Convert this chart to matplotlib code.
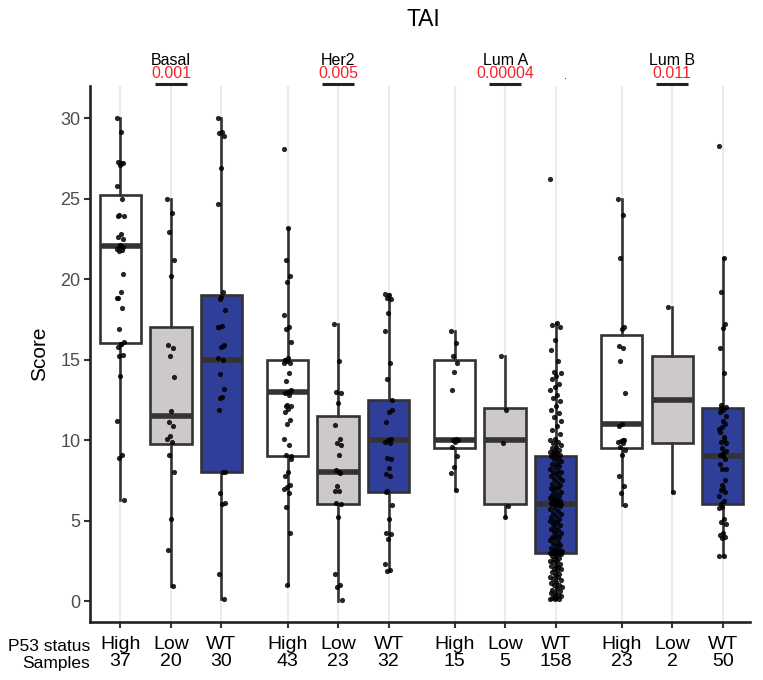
import matplotlib
matplotlib.use("Agg")
import matplotlib.pyplot as plt

plt.rcParams["font.family"] = ["Liberation Sans", "DejaVu Sans"]

subtypes = ["Basal", "Her2", "Lum A", "Lum B"]
p_values = ["0.001", "0.005", "0.00004", "0.011"]
statuses = ["High", "Low", "WT"]
samples = [37, 20, 30, 43, 23, 32, 15, 5, 158, 23, 2, 50]

# box stats: median, q1, q3, whisker low, whisker high
medians = [22.05, 11.5, 15.0, 13.0, 8.0, 10.0, 10.0, 10.0, 6.0, 11.0, 12.5, 9.0]
q1s = [16.05, 9.75, 8.0, 9.0, 6.0, 6.75, 9.5, 6.0, 3.0, 9.5, 9.8, 6.0]
q3s = [25.25, 17.0, 19.0, 15.0, 11.5, 12.5, 15.0, 12.0, 9.0, 16.5, 15.2, 12.0]
whis_lo = [6.3, 0.93, 0.12, 1.0, 0.0, 1.88, 6.9, 5.2, 0.1, 5.96, 6.8, 2.8]
whis_hi = [30.0, 25.0, 30.0, 23.15, 17.2, 19.1, 16.8, 15.2, 17.25, 25.0, 18.25, 21.3]

basal_high = [30.0, 29.15, 27.3, 27.2, 27.1, 25.8, 25.0, 24.0, 23.9, 22.8, 22.6, 22.5,
              22.05, 21.9, 21.8, 21.75, 20.35, 19.2, 18.8, 18.2, 16.9, 16.1, 16.0, 15.8,
              15.3, 14.0, 11.2, 9.1, 8.9, 6.3, 27.2, 23.9, 22.0, 22.1, 18.8, 16.0, 15.2]
basal_low = [25.0, 24.1, 22.9, 21.2, 20.2, 15.9, 15.75, 15.2, 13.9, 11.8, 11.1, 10.9,
             10.25, 10.1, 9.9, 9.07, 8.0, 5.1, 3.2, 0.93]
basal_wt = [30.0, 29.15, 29.05, 28.9, 26.9, 24.7, 19.2, 18.75, 18.1, 17.1, 17.0, 15.9,
            15.8, 15.1, 15.0, 14.1, 13.15, 12.7, 11.9, 8.03, 6.7, 6.1, 6.05, 1.7, 0.12,
            18.9, 17.05, 15.85, 12.6, 8.0]
her2_high = [28.1, 23.15, 21.2, 20.2, 19.8, 17.8, 17.0, 16.9, 16.1, 15.1, 15.0, 14.8,
             14.9, 14.8, 14.2, 13.7, 13.1, 13.0, 12.9, 12.8, 12.2, 12.1, 11.95, 11.75,
             11.25, 11.0, 10.1, 9.7, 9.07, 8.8, 8.0, 7.8, 7.2, 7.1, 6.95, 6.7, 5.85, 4.2,
             1.0, 15.0, 13.0, 12.1, 9.0]
her2_low = [17.2, 14.9, 13.0, 12.9, 12.3, 10.97, 10.1, 9.8, 9.7, 9.1, 8.14, 7.97, 7.14,
            6.85, 6.85, 6.07, 6.0, 5.2, 1.7, 1.0, 0.9, 0.06, 8.0]
her2_wt = [19.1, 19.0, 18.8, 18.75, 17.9, 16.8, 14.8, 13.8, 11.9, 11.75, 11.1, 10.1,
           10.0, 9.9, 9.85, 8.86, 8.8, 8.24, 7.87, 7.76, 6.85, 5.96, 5.07, 4.2, 4.16,
           3.83, 2.3, 1.93, 1.88, 12.5, 10.0, 6.75]
luma_high = [16.8, 16.05, 15.2, 14.8, 14.25, 13.1, 10.1, 10.0, 10.0, 9.9, 9.6, 9.0,
             8.3, 7.97, 6.9]
luma_low = [15.2, 11.9, 9.8, 5.9, 5.2]
luma_wt = [26.2, 17.25, 17.15, 17.0, 16.2, 15.6, 14.9, 14.25, 14.15, 14.0, 13.8, 13.5,
           13.3, 13.1, 12.8, 12.6, 12.4, 12.1, 11.9, 11.7, 11.45, 11.2, 10.9, 10.6,
           10.4, 10.1, 10.0, 9.9, 9.8, 9.7, 9.6, 9.5, 9.4, 9.3, 9.27, 9.2, 9.17, 9.1,
           9.05, 9.0,
           8.9, 8.8, 8.7, 8.6, 8.5, 8.4, 8.3, 8.2, 8.1, 8.0, 8.0, 7.9, 7.8, 7.7, 7.6,
           7.5, 7.4, 7.3, 7.2, 7.1, 7.0, 7.0, 6.9, 6.8, 6.7, 6.6, 6.5, 6.4, 6.4, 6.3,
           6.3, 6.2, 6.2, 6.1, 6.1, 6.0, 6.0, 6.0, 6.0,
           5.9, 5.8, 5.7, 5.6, 5.5, 5.4, 5.3, 5.2, 5.1, 5.0, 5.0, 4.9, 4.8, 4.7, 4.6,
           4.5, 4.4, 4.3, 4.2, 4.1, 4.0, 4.0, 3.9, 3.8, 3.7, 3.6, 3.5, 3.4, 3.3, 3.2,
           3.2, 3.1, 3.1, 3.0, 3.0, 3.0, 3.0, 3.0, 3.0,
           2.9, 2.8, 2.8, 2.7, 2.6, 2.5, 2.5, 2.4, 2.3, 2.2, 2.2, 2.1, 2.0, 2.0, 1.9,
           1.8, 1.7, 1.6, 1.5, 1.5, 1.4, 1.3, 1.2, 1.1, 1.0, 1.0, 0.9, 0.8, 0.7, 0.6,
           0.5, 0.5, 0.4, 0.3, 0.3, 0.2, 0.2, 0.1, 0.1, 0.1]
lumb_high = [25.0, 24.0, 21.3, 17.0, 16.9, 15.85, 15.75, 14.9, 12.9, 11.0, 10.9, 10.0,
             9.96, 9.9, 9.8, 9.6, 9.4, 9.07, 7.76, 7.16, 6.7, 5.96, 10.0]
lumb_low = [18.25, 6.8]
lumb_wt = [28.3, 21.3, 19.2, 17.2, 16.95, 15.7, 14.15, 12.2, 12.07, 11.9, 11.75, 11.0,
           10.8, 10.7, 10.0, 9.9, 9.8, 9.17, 9.07, 8.8, 8.2, 8.18, 7.04, 6.9, 6.8, 5.86,
           5.8, 5.07, 4.9, 4.8, 4.2, 4.1, 3.96, 3.9, 2.8, 2.8, 12.0, 11.5, 11.2, 10.5,
           10.2, 9.5, 9.3, 9.0, 8.5, 7.5, 7.2, 6.5, 6.2, 6.0]

groups = [basal_high, basal_low, basal_wt, her2_high, her2_low, her2_wt,
          luma_high, luma_low, luma_wt, lumb_high, lumb_low, lumb_wt]

fills = {"High": "white", "Low": "#CDC9C9", "WT": "#2F3E99"}
edge = "#333333"
gap = 3.31

positions = []
for g in range(len(subtypes)):
    for i in range(len(statuses)):
        positions.append(g * gap + i)

fig = plt.figure(figsize=(7.63, 6.80), dpi=100)
ax = fig.add_axes([90 / 763, 1 - 622 / 680, 660 / 763, 536 / 680])

stats = []
for k in range(len(groups)):
    stats.append({"med": medians[k], "q1": q1s[k], "q3": q3s[k],
                  "whislo": whis_lo[k], "whishi": whis_hi[k], "fliers": []})

bp = ax.bxp(stats, positions=positions, widths=0.82, patch_artist=True,
            showcaps=False, showfliers=False,
            boxprops=dict(edgecolor=edge, linewidth=1.9),
            whiskerprops=dict(color=edge, linewidth=1.9),
            medianprops=dict(color=edge, linewidth=4.0, solid_capstyle="butt"))
for k, box in enumerate(bp["boxes"]):
    box.set_facecolor(fills[statuses[k % 3]])
    box.set_zorder(2)
for line in bp["whiskers"] + bp["medians"]:
    line.set_zorder(2.5)

# jittered points, deterministic offsets (wider for the big group)
for k, vals in enumerate(groups):
    w = 0.24 if len(vals) > 100 else 0.15
    xs = [positions[k] + (((j * 0.6180339887) % 1) - 0.5) * w for j in range(len(vals))]
    ax.scatter(xs, vals, s=14, color="black", alpha=0.85, linewidths=0, zorder=3)

ax.set_xlim(-0.604, 12.47)
ax.set_ylim(-1.3, 32.0)
ax.set_xticks(positions)
ax.set_xticklabels([f"{statuses[k % 3]}\n{samples[k]}" for k in range(len(positions))],
                   fontsize=14, color="black", linespacing=1.0)
ax.set_yticks([0, 5, 10, 15, 20, 25, 30])
ax.tick_params(axis="y", labelsize=13, labelcolor="#4D4D4D", pad=3)
ax.tick_params(axis="x", pad=6)
ax.tick_params(axis="both", length=4, width=1.5, color=edge)
ax.xaxis.grid(True, color="#EBEBEB", linewidth=1.5)
ax.set_axisbelow(True)
for side in ["top", "right"]:
    ax.spines[side].set_visible(False)
for side in ["left", "bottom"]:
    ax.spines[side].set_linewidth(1.9)
    ax.spines[side].set_color("#222222")
ax.set_ylabel("Score", fontsize=15, labelpad=8)

# subtype labels, p-values and bars above each group
for g, name in enumerate(subtypes):
    cx = positions[g * 3 + 1]
    ax.text(cx, 33.6, name, ha="center", va="center", fontsize=11.5, clip_on=False)
    ax.text(cx, 32.75, p_values[g], ha="center", va="center", fontsize=11.5,
            color="#F0262C", clip_on=False)
    ax.plot([cx - 0.32, cx + 0.32], [32.1, 32.1], color="#222222", linewidth=2.2,
            solid_capstyle="butt", clip_on=False)
ax.text(positions[8] + 0.2, 32.3, ".", ha="center", va="bottom", fontsize=8,
        clip_on=False)

fig.text(90 / 763, 1 - 655 / 680, "P53 status\nSamples", ha="right", va="center",
         fontsize=12.5, multialignment="right", linespacing=1.1)
fig.text(423 / 763, 1 - 20 / 680, "TAI", ha="center", va="center", fontsize=16.5)

fig.savefig("out.png", dpi=100)
